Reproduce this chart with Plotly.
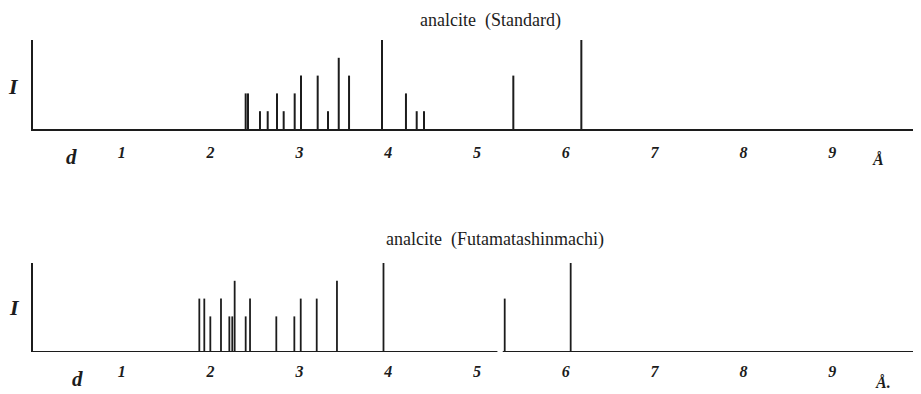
import plotly.graph_objects as go

# ---- data ----
std_d = [2.395, 2.421, 2.556, 2.643, 2.748, 2.823, 2.947, 3.018, 3.206, 3.322,
         3.443, 3.559, 3.930, 4.200, 4.321, 4.403, 5.409, 6.175]
std_I = [40, 40, 20, 20, 40, 20, 40, 60, 60, 20, 80, 60, 100, 40, 20, 20, 60, 100]

fut_d = [1.873, 1.929, 1.997, 2.117, 2.211, 2.244, 2.271, 2.395, 2.444, 2.740,
         2.943, 3.015, 3.195, 3.423, 3.947, 5.312, 6.055]
fut_I = [60, 60, 40, 60, 40, 40, 80, 40, 60, 40, 40, 60, 60, 80, 100, 60, 100]

tick_vals = [1, 2, 3, 4, 5, 6, 7, 8, 9]
tick_labels = ["1", "2", "3", "4", "5", "6", "7", "8", "9"]

# bottom baseline is broken by a small gap in the original
fut_baseline_start = [0, 5.29]
fut_baseline_end = [5.23, 10]

titles = ["analcite\u2002(Standard)", "analcite\u2002(Futamatashinmachi)"]

INK = "#1c1c1c"
SERIF = "Liberation Serif"

# page is shown with an 8px body margin; size the figure to fill the rest
OFF = 8
W, H = 921 - OFF, 394 - OFF


def px(xp):
    return (xp - OFF) / W


def py(yp):
    return 1 - (yp - OFF) / H


def sticks(ds, Is):
    xs, ys = [], []
    for d, i in zip(ds, Is):
        xs += [d, d, None]
        ys += [0, i, None]
    return xs, ys


fig = go.Figure()

x1, y1 = sticks(std_d, std_I)
fig.add_trace(go.Scatter(x=x1, y=y1, mode="lines", line=dict(color=INK, width=2),
                         xaxis="x", yaxis="y", hoverinfo="skip", showlegend=False))

x2, y2 = sticks(fut_d, fut_I)
fig.add_trace(go.Scatter(x=x2, y=y2, mode="lines", line=dict(color=INK, width=1.8),
                         xaxis="x2", yaxis="y2", hoverinfo="skip", showlegend=False))

bx, by = [], []
for s, e in zip(fut_baseline_start, fut_baseline_end):
    bx += [s, e, None]
    by += [0, 0, None]
fig.add_trace(go.Scatter(x=bx, y=by, mode="lines", line=dict(color=INK, width=2),
                         xaxis="x2", yaxis="y2", hoverinfo="skip", showlegend=False,
                         cliponaxis=False))

ticktext = ["<b><i>%s</i></b>" % t for t in tick_labels]
xcommon = dict(range=[0, 10], domain=[px(33), 1.0], showgrid=False, zeroline=False,
               tickmode="array", tickvals=tick_vals, ticktext=ticktext, ticks="",
               ticklabelstandoff=8,
               tickfont=dict(family=SERIF, size=16, color=INK))
ycommon = dict(range=[0, 100], showgrid=False, zeroline=False, showticklabels=False,
               ticks="", showline=True, linecolor=INK, linewidth=2)

fig.update_layout(
    width=W, height=H,
    margin=dict(l=0, r=0, t=0, b=0),
    paper_bgcolor="white", plot_bgcolor="white",
    xaxis=dict(**xcommon, anchor="y", showline=True, linecolor=INK, linewidth=2),
    yaxis=dict(**ycommon, anchor="x", domain=[py(129), py(40)]),
    xaxis2=dict(**xcommon, anchor="y2", showline=False),
    yaxis2=dict(**ycommon, anchor="x2", domain=[py(352), py(263)]),
)


def note(text, x, y, size, yanchor="middle"):
    return dict(text=text, x=px(x), y=min(py(y), 1.0), xref="paper", yref="paper",
                xanchor="center", yanchor=yanchor, showarrow=False,
                font=dict(family=SERIF, size=size, color=INK))


ann = [
    note(titles[0], 490, OFF, 18, yanchor="top"),
    note(titles[1], 495, 239, 18),
    note("<b><i>I</i></b>", 13, 86, 22),
    note("<b><i>I</i></b>", 14, 307, 22),
    note("<b><i>d</i></b>", 71, 157, 21),
    note("<b><i>d</i></b>", 77, 379, 21),
    note("<b><i>Å</i></b>", 878, 159, 16),
    note("<b><i>Å.</i></b>", 883, 382, 16),
]
fig.update_layout(annotations=ann)

fig.write_html("out.html")
